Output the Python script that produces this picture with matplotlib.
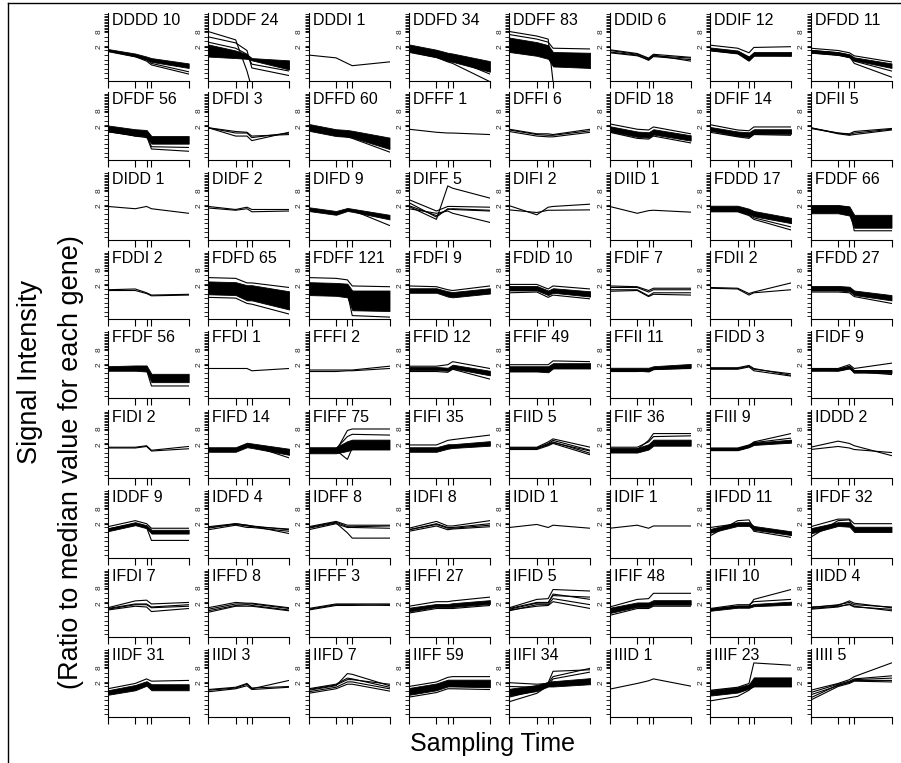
import numpy as np
import matplotlib.pyplot as plt
from matplotlib.lines import Line2D
from matplotlib.ticker import NullFormatter

plt.rcParams['font.family'] = ['Liberation Sans', 'DejaVu Sans']

# sampling times (relative position on the x axis)
times = [0, 0.34, 0.48, 0.54, 1.0]

patterns = ["DDDD", "DDDF", "DDDI", "DDFD", "DDFF", "DDID", "DDIF", "DFDD",
            "DFDF", "DFDI", "DFFD", "DFFF", "DFFI", "DFID", "DFIF", "DFII",
            "DIDD", "DIDF", "DIFD", "DIFF", "DIFI", "DIID", "FDDD", "FDDF",
            "FDDI", "FDFD", "FDFF", "FDFI", "FDID", "FDIF", "FDII", "FFDD",
            "FFDF", "FFDI", "FFFI", "FFID", "FFIF", "FFII", "FIDD", "FIDF",
            "FIDI", "FIFD", "FIFF", "FIFI", "FIID", "FIIF", "FIII", "IDDD",
            "IDDF", "IDFD", "IDFF", "IDFI", "IDID", "IDIF", "IFDD", "IFDF",
            "IFDI", "IFFD", "IFFF", "IFFI", "IFID", "IFIF", "IFII", "IIDD",
            "IIDF", "IIDI", "IIFD", "IIFF", "IIFI", "IIID", "IIIF", "IIII"]

counts = [10, 24, 1, 34, 83, 6, 12, 11,
          56, 3, 60, 1, 6, 18, 14, 5,
          1, 2, 9, 5, 2, 1, 17, 66,
          2, 65, 121, 9, 10, 7, 2, 27,
          56, 1, 2, 12, 49, 11, 3, 9,
          2, 14, 75, 35, 5, 36, 9, 2,
          9, 4, 8, 8, 1, 1, 11, 32,
          7, 8, 3, 27, 5, 48, 10, 4,
          31, 3, 7, 59, 34, 1, 23, 5]

# log2(ratio to median): dense black bands (upper, lower)
bands = {
    "DDDD": ([0.7, 0.1, -0.3, -0.5, -1.2], [0.4, -0.3, -0.7, -1.0, -1.8]),
    "DDDF": ([1.3, 0.5, 0.0, -0.5, -0.8], [-0.3, -0.5, -0.6, -0.8, -2.0]),
    "DDFD": ([1.3, 0.6, 0.2, 0.1, -0.9], [0.3, -0.4, -0.9, -1.0, -2.3]),
    "DDFF": ([2.2, 1.6, 1.2, 0.3, 0.2], [0.3, -0.2, -0.6, -1.6, -1.8]),
    "DDIF": ([0.9, 0.5, -0.3, 0.3, 0.3], [0.5, 0.1, -0.8, -0.2, -0.2]),
    "DFDD": ([0.6, 0.3, 0.0, -0.4, -1.2], [0.2, -0.1, -0.4, -0.8, -1.8]),
    "DFDF": ([1.1, 0.6, 0.5, -0.3, -0.3], [0.3, -0.2, -0.3, -1.3, -1.3]),
    "DFFD": ([1.3, 0.6, 0.5, 0.4, -0.5], [0.4, -0.3, -0.4, -0.5, -2.0]),
    "DFID": ([1.0, 0.3, 0.2, 0.6, -0.2], [0.3, -0.4, -0.5, -0.1, -0.9]),
    "DFIF": ([0.9, 0.3, 0.2, 0.6, 0.6], [0.4, -0.3, -0.4, 0.0, 0.0]),
    "DIFD": ([0.8, 0.3, 0.7, 0.6, -0.2], [0.3, -0.2, 0.3, 0.2, -0.8]),
    "FDDD": ([1.0, 1.0, 0.6, 0.3, -0.6], [0.3, 0.3, -0.1, -0.4, -1.3]),
    "FDDF": ([1.1, 1.1, 0.9, -0.2, -0.2], [0.0, 0.0, -0.3, -1.9, -1.9]),
    "FDFD": ([1.5, 1.4, 1.0, 1.0, 0.2], [-0.2, -0.3, -1.0, -1.0, -2.2]),
    "FDFF": ([1.4, 1.3, 1.2, 0.3, 0.3], [-0.3, -0.4, -0.6, -2.3, -2.4]),
    "FDFI": ([0.6, 0.6, 0.2, 0.1, 0.6], [0.0, 0.0, -0.5, -0.6, -0.1]),
    "FDID": ([0.9, 0.9, 0.3, 0.6, 0.2], [0.3, 0.3, -0.3, 0.0, -0.5]),
    "FFDD": ([0.9, 0.9, 0.8, 0.3, -0.3], [0.3, 0.3, 0.2, -0.3, -1.0]),
    "FFDF": ([0.8, 0.9, 0.9, -0.2, -0.2], [0.2, 0.2, 0.1, -1.3, -1.3]),
    "FFID": ([0.7, 0.7, 0.6, 1.0, 0.2], [0.3, 0.3, 0.2, 0.5, -0.4]),
    "FFIF": ([0.8, 0.8, 0.8, 1.2, 1.2], [0.1, 0.1, 0.0, 0.5, 0.5]),
    "FFII": ([0.6, 0.6, 0.6, 0.8, 1.1], [0.2, 0.2, 0.1, 0.4, 0.6]),
    "FIDF": ([0.5, 0.5, 0.8, 0.3, 0.3], [0.2, 0.2, 0.5, 0.0, -0.1]),
    "FIFD": ([0.6, 0.6, 1.2, 1.1, 0.4], [0.0, 0.0, 0.6, 0.5, -0.4]),
    "FIFF": ([0.6, 0.6, 1.4, 1.6, 1.6], [-0.2, -0.2, 0.1, 0.3, 0.3]),
    "FIFI": ([0.6, 0.6, 1.0, 1.0, 1.4], [0.0, 0.0, 0.4, 0.5, 0.8]),
    "FIIF": ([0.5, 0.5, 1.0, 1.6, 1.6], [-0.1, -0.1, 0.3, 0.8, 0.8]),
    "FIII": ([0.5, 0.5, 0.9, 1.2, 1.6], [0.2, 0.2, 0.6, 0.9, 1.2]),
    "IDDF": ([0.4, 1.2, 0.8, 0.2, 0.2], [0.0, 0.8, 0.4, -0.3, -0.3]),
    "IFDD": ([0.3, 1.2, 1.2, 0.7, 0.0], [-0.2, 0.7, 0.7, 0.2, -0.5]),
    "IFDF": ([0.4, 1.2, 1.2, 0.6, 0.6], [-0.3, 0.7, 0.6, -0.1, -0.1]),
    "IFFI": ([0.4, 0.9, 0.9, 1.0, 1.4], [-0.1, 0.5, 0.5, 0.5, 0.9]),
    "IFIF": ([0.4, 1.1, 1.1, 1.4, 1.4], [-0.3, 0.5, 0.5, 0.8, 0.8]),
    "IFII": ([0.3, 0.7, 0.7, 0.9, 1.2], [0.0, 0.4, 0.4, 0.6, 0.8]),
    "IIDF": ([0.0, 0.7, 1.2, 0.8, 0.8], [-0.6, 0.0, 0.6, 0.0, 0.0]),
    "IIFF": ([0.3, 0.9, 1.4, 1.4, 1.4], [-0.6, 0.0, 0.5, 0.5, 0.4]),
    "IIFI": ([0.2, 0.7, 1.1, 1.2, 1.6], [-0.7, -0.1, 0.5, 0.5, 0.8]),
    "IIIF": ([0.0, 0.4, 0.8, 1.7, 1.7], [-0.7, -0.3, 0.2, 0.5, 0.5]),
}

# log2(ratio to median): individual gene profiles that stand out
profiles = {
    "DDDD": [[0.5, -0.3, -0.9, -1.4, -2.6], [0.5, -0.2, -0.7, -1.2, -2.3]],
    "DDDF": [[3.0, 1.9, -2.2, -4.5, -4.5], [2.3, 1.5, 0.5, -1.8, -2.8], [1.6, 0.8, 0.0, -1.3, -2.2]],
    "DDDI": [[-0.1, -0.47, -1.2, -1.5, -1.0]],
    "DDFD": [[0.4, -0.4, -1.0, -1.2, -3.6], [0.9, 0.2, -0.4, -0.6, -2.6]],
    "DDFF": [[3.0, 2.4, 2.0, -3.6, -3.6], [2.6, 2.0, 1.6, 0.8, 0.7]],
    "DDID": [[0.6, 0.1, -0.5, 0.0, -0.4], [0.3, -0.1, -0.8, -0.3, -0.7],
             [0.5, 0.0, -0.6, -0.1, -0.9], [0.2, -0.2, -0.7, -0.2, -0.5]],
    "DDIF": [[1.2, 0.8, 0.2, 0.9, 1.0], [0.5, 0.1, -0.9, -0.1, -0.2], [0.7, 0.3, -0.4, 0.1, 0.0]],
    "DFDD": [[0.8, 0.5, 0.2, -0.2, -1.0], [0.5, 0.2, -0.1, -0.6, -1.6],
             [0.2, -0.1, -0.4, -0.9, -2.2], [0.3, 0.0, -0.3, -1.2, -3.0]],
    "DFDF": [[0.5, 0.0, -0.1, -1.7, -1.8], [0.3, -0.3, -0.3, -2.0, -2.3], [0.6, -0.3, -0.5, -1.1, -1.0]],
    "DFDI": [[0.8, -0.3, -0.3, -0.9, 0.2], [0.8, 0.1, 0.1, -0.5, 0.1], [0.8, 0.3, 0.2, -0.3, -0.1]],
    "DFFD": [[0.6, -0.2, -0.4, -0.6, -2.4]],
    "DFFF": [[0.6, 0.2, 0.1, 0.1, -0.1]],
    "DFFI": [[0.5, -0.1, -0.2, -0.2, 0.4], [0.3, -0.3, -0.4, -0.4, 0.2], [0.6, 0.0, 0.0, -0.1, 0.6]],
    "DFID": [[1.3, 0.6, 0.5, 0.9, 0.0], [0.2, -0.6, -0.7, -0.3, -1.2]],
    "DFIF": [[1.2, 0.5, 0.4, 0.9, 0.9], [0.2, -0.4, -0.6, -0.1, -0.2]],
    "DFII": [[0.8, 0.1, -0.1, 0.1, 0.6], [0.8, 0.0, -0.2, -0.1, 0.5], [0.7, 0.1, 0.0, 0.3, 0.7]],
    "DIDD": [[0.9, 0.6, 0.9, 0.6, 0.0]],
    "DIDF": [[0.9, 0.5, 0.8, 0.5, 0.5], [0.7, 0.4, 0.6, 0.2, 0.3]],
    "DIFD": [[0.5, -0.1, 0.5, 0.4, -1.6]],
    "DIFF": [[1.4, -0.5, 0.6, 0.5, 0.3], [1.0, -0.3, 0.5, 0.6, 0.4], [0.9, -0.8, 3.6, 3.3, 2.0],
             [0.6, 0.0, 0.3, 0.0, -1.2], [1.8, 0.3, 0.9, 0.9, 0.8]],
    "DIFI": [[1.0, -0.2, 0.8, 0.9, 1.2], [0.45, 0.1, 0.4, 0.4, 0.45]],
    "DIID": [[0.9, 0.0, 0.35, 0.4, 0.15]],
    "FDDD": [[0.4, 0.3, -0.2, -0.6, -1.8], [0.2, 0.2, -0.3, -0.8, -2.2]],
    "FDDF": [[0.8, 0.9, 0.8, -2.3, -2.3], [0.5, 0.5, 0.3, -1.5, -1.6]],
    "FDDI": [[0.4, 0.5, 0.0, -0.3, -0.2], [0.3, 0.3, -0.1, -0.4, -0.3]],
    "FDFD": [[2.0, 1.9, 1.3, 1.3, 0.7], [-0.6, -0.7, -1.4, -1.5, -2.8]],
    "FDFF": [[2.0, 1.9, 1.7, 0.9, 0.8], [0.3, 0.3, 0.0, -3.0, -3.2]],
    "FDFI": [[0.9, 0.8, 0.4, 0.3, 0.9]],
    "FDID": [[1.1, 1.1, 0.5, 0.9, 0.5], [0.0, 0.1, -0.6, -0.3, -0.8]],
    "FDIF": [[0.7, 0.7, 0.1, 0.4, 0.4], [0.4, 0.4, -0.4, 0.0, 0.0],
             [0.9, 0.8, 0.3, 0.6, 0.6], [0.2, 0.3, -0.5, -0.2, -0.3]],
    "FDII": [[0.7, 0.6, -0.1, 0.1, 1.3], [0.6, 0.5, -0.3, 0.0, 0.4]],
    "FFDD": [[0.1, 0.1, 0.0, -0.5, -1.4]],
    "FFDF": [[0.4, 0.4, 0.3, -1.8, -1.8]],
    "FFDI": [[0.5, 0.5, 0.5, 0.2, 0.5]],
    "FFFI": [[0.3, 0.3, 0.3, 0.3, 0.8], [0.1, 0.1, 0.2, 0.2, 0.5]],
    "FFID": [[0.8, 0.8, 1.0, 1.4, 0.5], [0.1, 0.1, 0.0, 0.4, -0.9]],
    "FFIF": [[1.0, 1.0, 1.0, 1.5, 1.4]],
    "FFII": [[0.1, 0.1, 0.2, 0.4, 0.5]],
    "FIDD": [[0.6, 0.6, 0.9, 0.5, -0.4], [0.4, 0.4, 0.7, 0.2, -0.5], [0.5, 0.5, 0.8, 0.4, -0.2]],
    "FIDF": [[0.4, 0.4, 0.8, 0.2, 0.2], [0.2, 0.3, 0.6, -0.1, 0.0],
             [0.5, 0.5, 1.0, 0.5, 1.2], [0.3, 0.2, 0.5, 0.1, -0.3]],
    "FIDI": [[0.6, 0.6, 0.8, 0.2, 0.7], [0.5, 0.5, 0.7, 0.1, 0.4]],
    "FIFD": [[0.3, 0.3, 0.9, 0.8, -0.8]],
    "FIFF": [[0.1, 0.1, 2.8, 3.0, 3.0], [0.2, 0.2, -1.0, 0.5, 0.5], [0.4, 0.4, 2.0, 2.3, 2.2]],
    "FIFI": [[0.9, 0.9, 1.5, 1.6, 2.2]],
    "FIID": [[0.5, 0.5, 1.1, 1.5, 0.2], [0.4, 0.4, 1.0, 1.3, -0.2], [0.6, 0.6, 1.3, 1.7, 0.6],
             [0.3, 0.3, 0.8, 1.1, -0.4], [0.5, 0.5, 0.9, 1.2, 0.1]],
    "FIIF": [[0.3, 0.3, 1.5, 2.4, 2.4], [0.6, 0.6, 1.3, 2.0, 2.1]],
    "FIII": [[0.3, 0.3, 0.8, 1.3, 2.4], [0.5, 0.5, 0.9, 1.2, 1.8],
             [0.2, 0.2, 0.6, 0.9, 1.4], [0.4, 0.4, 0.8, 1.1, 1.2]],
    "IDDD": [[0.6, 1.4, 1.1, 0.8, -0.5], [0.3, 0.7, 0.5, 0.3, -0.1]],
    "IDDF": [[0.3, 1.0, 0.5, -1.2, -1.2], [0.6, 1.4, 1.0, 0.4, 0.4]],
    "IDFD": [[0.4, 1.0, 0.8, 0.7, 0.2], [0.6, 1.0, 0.8, 0.7, -0.3],
             [0.2, 0.8, 0.5, 0.5, 0.0], [0.5, 0.9, 0.7, 0.6, 0.3]],
    "IDFF": [[0.6, 1.3, 0.8, 0.8, 0.8], [0.2, 1.0, 0.5, 0.5, 0.4],
             [0.4, 1.1, -0.2, -0.9, -0.9], [0.5, 1.2, 0.6, 0.6, 0.7]],
    "IDFI": [[0.2, 1.0, 0.5, 0.5, 1.0], [0.0, 0.7, 0.2, 0.3, 0.6],
             [0.4, 1.3, 0.7, 0.7, 1.4], [0.2, 0.9, 0.4, 0.4, 0.8]],
    "IDID": [[0.5, 0.9, 0.5, 0.8, 0.4]],
    "IDIF": [[0.4, 0.8, 0.4, 0.7, 0.7]],
    "IFDD": [[-0.6, 1.4, 1.5, 0.4, -0.2], [0.5, 1.0, 1.0, 0.0, -0.8]],
    "IFDF": [[-0.8, 1.4, 1.5, 0.2, 0.2], [0.6, 1.6, 1.6, 1.0, 1.0]],
    "IFDI": [[0.2, 0.8, 0.8, 0.4, 0.6], [0.4, 1.3, 1.4, 0.9, 1.1],
             [0.1, 0.6, 0.5, -0.1, 0.3], [0.3, 0.9, 0.9, 0.5, 0.8]],
    "IFFD": [[0.2, 0.9, 0.9, 0.9, 0.3], [0.4, 1.1, 1.0, 1.0, 0.4],
             [0.0, 0.7, 0.8, 0.7, 0.1], [-0.2, 0.6, 0.6, 0.6, 0.0]],
    "IFFF": [[0.3, 0.9, 0.9, 0.9, 0.9], [0.1, 0.7, 0.7, 0.7, 0.8], [0.2, 0.8, 0.8, 0.8, 0.7]],
    "IFFI": [[0.6, 1.2, 1.2, 1.3, 1.8], [-0.3, 0.3, 0.3, 0.3, 0.7]],
    "IFID": [[0.2, 1.0, 1.0, 2.2, 1.5], [0.0, 0.8, 0.8, 1.6, 0.8], [0.4, 1.5, 1.6, 2.8, 2.6],
             [0.1, 0.6, 0.7, 1.2, 0.3], [0.3, 1.1, 1.1, 2.0, 1.8]],
    "IFIF": [[0.5, 1.5, 1.6, 2.3, 2.3], [-0.6, 0.3, 0.3, 0.6, 0.6]],
    "IFII": [[0.2, 0.6, 0.6, 1.5, 2.8], [0.3, 0.8, 0.8, 1.2, 1.5]],
    "IIDD": [[0.4, 0.8, 1.1, 0.8, 0.5], [0.3, 0.6, 0.8, 0.5, 0.2],
             [0.5, 0.7, 1.3, 1.0, 0.4], [0.2, 0.5, 0.9, 0.6, 0.0]],
    "IIDF": [[0.2, 0.9, 1.5, 1.2, 1.3], [-0.5, 0.2, 0.9, 0.4, 0.4]],
    "IIDI": [[0.0, 0.3, 0.8, 0.2, 1.3], [-0.2, 0.2, 0.6, 0.1, 0.4], [0.1, 0.4, 0.9, 0.3, 0.5]],
    "IIFD": [[0.0, 0.6, 2.2, 2.1, 0.6], [-0.2, 0.4, 1.1, 1.1, 0.2], [0.1, 0.7, 1.4, 1.4, 0.8],
             [-0.4, 0.2, 0.8, 0.8, -0.1], [0.2, 0.8, 1.6, 1.5, 0.4]],
    "IIFF": [[0.5, 1.1, 1.7, 1.8, 1.8], [-0.9, -0.3, 0.2, 0.2, 0.1]],
    "IIFI": [[1.0, 0.8, 0.9, 1.8, 2.9], [-1.5, -0.4, 0.6, 1.5, 2.4],
             [0.5, 0.4, 1.0, 2.5, 2.7], [-0.9, 0.0, 0.7, 0.9, 1.0]],
    "IIID": [[0.15, 0.9, 1.25, 1.5, 0.55]],
    "IIIF": [[0.0, 0.4, 0.9, 3.6, 3.3], [-1.4, -0.8, 0.0, 0.6, 0.6]],
    "IIII": [[0.0, 0.9, 1.4, 1.8, 3.6], [-0.6, 0.6, 1.1, 1.4, 1.6], [-1.3, 0.5, 0.9, 1.2, 1.1],
             [-0.3, 0.8, 1.2, 1.5, 1.9], [-1.0, 0.7, 1.0, 1.3, 1.3]],
}

W, H = 901, 763
fig = plt.figure(figsize=(W / 100, H / 100), dpi=100)

# panel grid geometry in pixels
col_x0, col_dx, ax_w = 107.7, 100.4, 81
row_y0, row_dy, ax_h = 12.5, 79.5, 68.0

minor_pos = np.concatenate([np.arange(-3.1, 3.0, 0.6), np.arange(3.3, 5.5, 0.2)])

for i, pat in enumerate(patterns):
    r, c = divmod(i, 8)
    left = (col_x0 + c * col_dx) / W
    bottom = 1 - (row_y0 + r * row_dy + ax_h) / H
    ax = fig.add_axes([left, bottom, ax_w / W, ax_h / H])

    if pat in bands:
        hi, lo = bands[pat]
        ax.fill_between(times, np.power(2.0, lo), np.power(2.0, hi), color='black', lw=0.6)
    for prof in profiles.get(pat, []):
        ax.plot(times, np.power(2.0, prof), color='black', lw=0.8)

    ax.set_yscale('log', base=2)
    ax.set_ylim(2 ** -3.45, 2 ** 5.5)
    ax.set_xlim(0, 1)
    ax.set_xticks(times)
    ax.set_xticklabels([])
    ax.set_yticks([2, 8])
    ax.set_yticklabels(['2', '8'], rotation=90, fontsize=6, color='#222222', va='center')
    ax.set_yticks(np.power(2.0, minor_pos), minor=True)
    ax.yaxis.set_minor_formatter(NullFormatter())
    ax.tick_params(axis='y', which='major', length=3, width=0.8, pad=1)
    ax.tick_params(axis='y', which='minor', length=3, width=0.6)
    ax.tick_params(axis='x', length=5, width=0.8)
    for side in ['top', 'right']:
        ax.spines[side].set_visible(False)
    for side in ['left', 'bottom']:
        ax.spines[side].set_linewidth(0.8)
    ax.text(0.05, 1.0, f"{pat} {counts[i]}", transform=ax.transAxes,
            fontsize=11.5, va='top', ha='left')

fig.text(30 / W, 1 - 372 / H, "Signal Intensity", rotation=90, fontsize=19.5,
         ha='center', va='center')
fig.text(71 / W, 1 - 462 / H, "(Ratio to median value for each gene)", rotation=90,
         fontsize=19.5, ha='center', va='center')
fig.text(492 / W, 1 - 744 / H, "Sampling Time", fontsize=18, ha='center', va='center')

# frame lines at top and left
fig.add_artist(Line2D([8 / W, 1], [1 - 3 / H, 1 - 3 / H], color='black', lw=1))
fig.add_artist(Line2D([8 / W, 8 / W], [0, 1 - 3 / H], color='black', lw=1))

fig.savefig('out.png', dpi=100)
